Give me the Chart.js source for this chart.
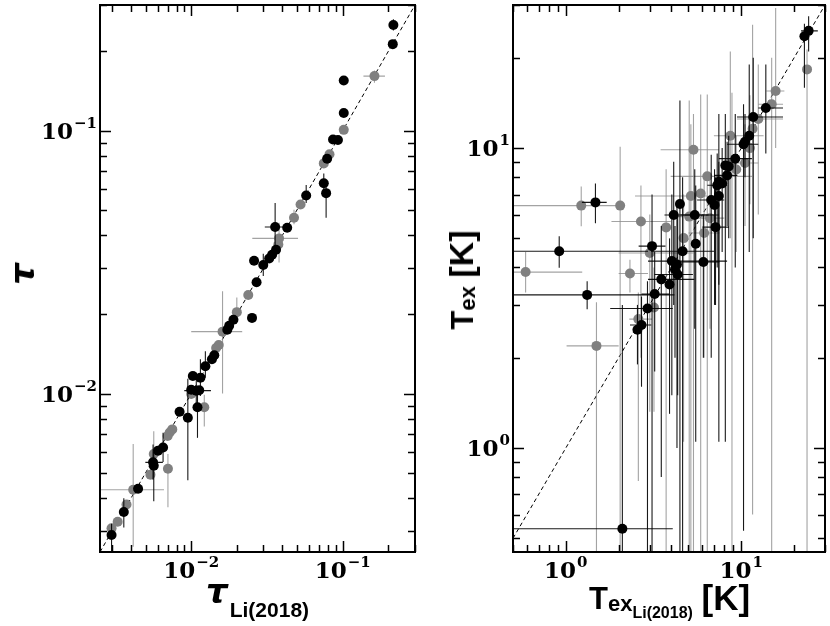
<!DOCTYPE html>
<html>
<head>
<meta charset="utf-8">
<script src="https://cdn.jsdelivr.net/npm/chart.js@4.4.1/dist/chart.umd.min.js"></script>
<style>
  html, body { margin: 0; padding: 0; background: #fff; }
  #wrap { position: relative; width: 830px; height: 626px; background: #fff; overflow: hidden; }
  .panel { position: absolute; top: 0; height: 626px; }
  .ttl { position: absolute; white-space: nowrap; line-height: 1; color: #000; }
  .sans { font-family: "Liberation Sans", Arial, sans-serif; font-weight: bold; }
  .rot { transform: translate(-50%, -50%) rotate(-90deg); }
</style>
</head>
<body>
<div id="wrap">
  <div class="panel" style="left:0;width:420px"><canvas id="chartTau"></canvas></div>
  <div class="panel" style="left:420px;width:410px"><canvas id="chartTex"></canvas></div>

  <div class="ttl rot" style="left:22px;top:274px;font:bold italic 34px 'DejaVu Sans'">τ</div>
  <div class="ttl" style="left:206px;top:571px;font:bold italic 34px 'DejaVu Sans'">τ<span class="sans" style="font-size:21px;font-style:normal;position:relative;top:14px;margin-left:2px">Li(2018)</span></div>

  <div class="ttl rot sans" style="left:461px;top:280px;font-size:31px">T<span style="font-size:22px;position:relative;top:2px">ex</span> <span style="font-size:34px">[K]</span></div>
  <div class="ttl sans" style="left:589px;top:579px;font-size:31px">T<span style="font-size:22px;position:relative;top:2px">ex<span style="font-size:16px;position:relative;top:7px">Li(2018)</span></span> <span style="font-size:35px;position:relative;top:1px">[K]</span></div>
</div>

<script>
// axis ranges and labelled ticks
const tauRange = [0.0025, 0.3];
const texXRange = [0.5, 30];
const texYRange = [0.45, 30];
const tauTickLabels = [0.01, 0.1];
const texTickLabels = [1, 10];

// rows: [x, y, xLow, xHigh, yLow, yHigh]  (error bounds optional)
const tauBlack = [
    [0.216, 0.252, null, null, 0.24, 0.265],
    [0.214, 0.213],
    [0.1016, 0.155],
    [0.1016, 0.1165],
    [0.0863, 0.0925],
    [0.093, 0.092],
    [0.0789, 0.0781],
    [0.075, 0.063, null, null, 0.0587, 0.0687],
    [0.0777, 0.0578, null, null, 0.0466, 0.063],
    [0.0574, 0.0566, null, null, 0.053, 0.0621],
    [0.043, 0.0427],
    [0.0358, 0.043, 0.0306, 0.043, 0.0352, 0.053],
    [0.0363, 0.0352],
    [0.0342, 0.0337],
    [0.0327, 0.0326],
    [0.026, 0.032],
    [0.0299, 0.0308, null, null, 0.028, 0.034],
    [0.027, 0.0265],
    [0.0252, 0.0194],
    [0.019, 0.0191],
    [0.0178, 0.0181],
    [0.0173, 0.0175],
    [0.0142, 0.014],
    [0.0137, 0.0135],
    [0.0124, 0.0127, null, null, 0.0115, 0.0145],
    [0.01025, 0.01167],
    [0.0115, 0.0115, null, null, 0.0098, 0.0135],
    [0.01, 0.01035],
    [0.0108, 0.01026, 0.009, 0.0135, 0.0088, 0.012],
    [0.0113, 0.0103],
    [0.011, 0.00888, null, null, 0.00679, 0.00994],
    [0.00838, 0.00853],
    [0.0095, 0.00809, null, null, 0.00468, 0.0114],
    [0.00652, 0.00624, null, null, 0.0055, 0.0071],
    [0.00604, 0.00607],
    [0.0056, 0.00548, 0.00498, 0.0065, 0.0047, 0.0064],
    [0.00566, 0.00532, null, null, 0.0039, 0.006],
    [0.00446, 0.00435],
    [0.00359, 0.00355, null, null, 0.0031, 0.004],
    [0.00298, 0.0029, null, null, 0.0025, 0.0032]
];

const tauGray = [
    [0.162, 0.161, 0.137, 0.19, 0.152, 0.169],
    [0.1016, 0.1006],
    [0.0818, 0.0813],
    [0.075, 0.075],
    [0.0527, 0.0523],
    [0.0477, 0.0466, null, null, 0.044, 0.05],
    [0.038, 0.0389, 0.0253, 0.0507, 0.0315, 0.0446],
    [0.0376, 0.0369],
    [0.0238, 0.0237],
    [0.02, 0.0204, null, null, 0.0187, 0.0232],
    [0.0161, 0.0172, 0.01, 0.0217, 0.01, 0.0245],
    [0.0152, 0.0153],
    [0.0146, 0.0149],
    [0.01, 0.00997],
    [0.0122, 0.00888, null, null, 0.0075, 0.0099],
    [0.0075, 0.00731],
    [0.00721, 0.00711],
    [0.00699, 0.0069],
    [0.00566, 0.00589, null, null, 0.0052, 0.0072],
    [0.00702, 0.00518, null, null, 0.0037, 0.0059],
    [0.00538, 0.00492],
    [0.00414, 0.00431, 0.0025, 0.00661, 0.00262, 0.00644],
    [0.00374, 0.00379],
    [0.00327, 0.00326],
    [0.00298, 0.00308]
];

const texBlack = [
    [24.2, 24.6, 21.9, 27.3, 21.0, 27.5],
    [22.9, 23.6, null, null, 15.9, 26.0],
    [13.8, 13.6, 12.5, 17.3, 9.6, 19.0],
    [11.7, 12.7, 9.45, 17.3, 5.0, 20.0],
    [11.1, 11.0, null, null, 4.5, 19.0],
    [10.3, 10.3, 8.3, 12.5, 0.53, 14.0],
    [10.5, 10.5, null, null, 8.0, 13.0],
    [9.24, 9.22, 7.45, 11.5, 4.0, 13.0],
    [8.11, 8.75, null, null, 1.05, 13.0],
    [8.48, 8.69, null, null, 5.0, 11.0],
    [8.3, 8.11, 7.0, 9.5, 5.5, 10.5],
    [7.45, 7.72, null, null, 1.05, 13.0],
    [7.78, 7.62, null, null, 4.5, 10.0],
    [7.29, 7.52, 6.4, 8.3, 4.0, 9.6],
    [7.45, 6.92, null, null, 3.5, 9.0],
    [6.74, 6.71, 5.6, 8.0, 2.0, 9.5],
    [7.04, 6.46, null, null, 3.0, 8.5],
    [4.47, 6.51, null, null, 0.2, 14.4],
    [1.475, 6.59, 1.235, 1.71, 5.62, 7.62],
    [4.12, 5.98, 3.65, 7.45, 3.0, 9.0],
    [5.43, 5.98, 4.5, 6.5, 2.5, 8.5],
    [7.13, 5.45, 6.0, 8.5, 3.0, 8.0],
    [5.5, 4.8, null, null, 1.05, 7.5],
    [3.1, 4.71, 2.6, 3.7, 0.2, 7.0],
    [4.63, 4.53, 3.06, 7.0, 0.2, 8.0],
    [0.917, 4.53, 0.3, 2.94, 3.99, 5.08],
    [6.08, 4.17, 4.5, 7.5, 2.0, 6.0],
    [4.02, 4.2, 2.94, 8.3, 1.5, 7.0],
    [4.3, 4.09, null, null, 1.0, 6.5],
    [3.5, 3.65, 2.94, 5.4, 0.8, 5.5],
    [3.9, 3.51, null, null, 1.3, 5.0],
    [4.34, 3.79, 3.2, 5.3, 1.5, 6.0],
    [4.19, 3.94, null, null, 2.0, 5.5],
    [1.323, 3.24, 0.3, 4.16, 2.9, 3.6],
    [3.21, 3.26, 2.7, 3.9, 1.8, 4.5],
    [2.92, 2.92, 1.79, 4.07, 0.2, 3.6],
    [2.7, 2.57, 2.32, 3.07, 1.6, 3.2],
    [2.56, 2.48, null, null, 1.9, 3.0],
    [2.1, 0.538, 0.3, 4.07, 0.2, 3.0]
];

const texGray = [
    [23.7, 18.3, null, null, 0.2, 21.3],
    [15.7, 15.5, 13.9, 17.6, 10.0, 29.3],
    [14.9, 14.0, 12.5, 17.3, 0.2, 20.0],
    [12.5, 12.5, 9.45, 17.3, 6.0, 19.0],
    [11.6, 11.6, null, null, 0.6, 25.8],
    [8.66, 11.0, 6.98, 13.4, 5.0, 21.0],
    [11.2, 10.0, null, null, 6.5, 15.0],
    [5.34, 9.87, 3.47, 7.45, 0.2, 13.0],
    [8.85, 8.88, null, null, 0.2, 15.3],
    [10.5, 8.92, 8.5, 12.5, 5.5, 12.0],
    [9.36, 8.48, null, null, 4.5, 11.0],
    [6.4, 8.05, 3.96, 11.5, 0.2, 15.1],
    [5.16, 6.92, 2.48, 6.4, 0.2, 12.0],
    [5.87, 7.06, null, null, 0.2, 15.1],
    [1.224, 6.43, 0.3, 2.07, 5.49, 7.45],
    [2.04, 6.43, null, null, 0.2, 10.1],
    [2.68, 5.69, 1.82, 3.96, 2.0, 7.5],
    [6.63, 5.84, 5.0, 8.0, 2.5, 8.0],
    [3.73, 5.44, null, null, 0.2, 8.5],
    [5.05, 5.91, 4.0, 6.5, 0.2, 14.4],
    [6.14, 5.21, 5.0, 7.5, 2.0, 8.0],
    [4.69, 5.01, null, null, 1.05, 7.0],
    [3.01, 4.47, 2.0, 5.41, 1.32, 6.0],
    [0.59, 3.86, 0.3, 1.24, 3.3, 4.5],
    [2.32, 3.82, 2.0, 2.94, 3.3, 4.24],
    [3.18, 2.94, null, null, 1.32, 4.0],
    [2.59, 2.69, 2.3, 3.1, 0.776, 3.3],
    [1.495, 2.19, 1.01, 2.0, 0.2, 3.06]
];

function toPoints(rows) {
    return rows.map(r => ({ x: r[0], y: r[1] }));
}

// minor/major log ticks inside a range
function logTicks(min, max) {
    const out = [];
    for (let e = Math.floor(Math.log10(min)); e <= Math.ceil(Math.log10(max)); e++) {
        for (let m = 1; m < 10; m++) {
            const v = m * Math.pow(10, e);
            if (v >= min * 0.999 && v <= max * 1.001) out.push({ v: v, major: m === 1 });
        }
    }
    return out;
}

// error bars, drawn just before the points of their dataset
const errorBars = {
    id: 'errorBars',
    beforeDatasetDraw(chart, args) {
        const ds = chart.data.datasets[args.index];
        if (!ds.errRows) return;
        const { ctx, chartArea: a } = chart;
        const xs = chart.scales.x, ys = chart.scales.y;
        ctx.save();
        ctx.beginPath();
        ctx.rect(a.left, a.top, a.right - a.left, a.bottom - a.top);
        ctx.clip();
        ctx.strokeStyle = ds.errColor;
        ctx.lineWidth = 1.1;
        ds.errRows.forEach(r => {
            const px = xs.getPixelForValue(r[0]);
            const py = ys.getPixelForValue(r[1]);
            ctx.beginPath();
            if (r[2] != null) {
                ctx.moveTo(xs.getPixelForValue(r[2]), py);
                ctx.lineTo(xs.getPixelForValue(r[3]), py);
            }
            if (r[4] != null) {
                ctx.moveTo(px, ys.getPixelForValue(r[4]));
                ctx.lineTo(px, ys.getPixelForValue(r[5]));
            }
            ctx.stroke();
        });
        ctx.restore();
    }
};

// 10^n label with a raised exponent
function drawPow(ctx, value, cx, baseY, align) {
    const e = Math.round(Math.log10(value));
    const expText = e < 0 ? '\u2212' + (-e) : String(e);
    ctx.font = 'bold 23px "DejaVu Serif"';
    const wb = ctx.measureText('10').width;
    ctx.font = 'bold 15px "DejaVu Serif"';
    const we = ctx.measureText(expText).width;
    const total = wb + 1 + we;
    const start = align === 'center' ? cx - total / 2 : cx - total;
    ctx.textAlign = 'left';
    ctx.textBaseline = 'alphabetic';
    ctx.font = 'bold 23px "DejaVu Serif"';
    ctx.fillText('10', start, baseY);
    ctx.font = 'bold 15px "DejaVu Serif"';
    ctx.fillText(expText, start + wb + 1, baseY - 11);
}

// frame with inward ticks on all four sides + tick labels
const frame = {
    id: 'frame',
    afterDraw(chart, args, opts) {
        const { ctx, chartArea: a } = chart;
        const xs = chart.scales.x, ys = chart.scales.y;
        ctx.save();
        ctx.strokeStyle = '#000';
        ctx.lineWidth = 1.5;
        ctx.beginPath();
        logTicks(xs.min, xs.max).forEach(t => {
            const p = Math.round(xs.getPixelForValue(t.v)) + 0.5;
            const len = t.major ? 11 : 7;
            ctx.moveTo(p, a.bottom); ctx.lineTo(p, a.bottom - len);
            ctx.moveTo(p, a.top); ctx.lineTo(p, a.top + len);
        });
        logTicks(ys.min, ys.max).forEach(t => {
            const p = Math.round(ys.getPixelForValue(t.v)) + 0.5;
            const len = t.major ? 11 : 7;
            ctx.moveTo(a.left, p); ctx.lineTo(a.left + len, p);
            ctx.moveTo(a.right, p); ctx.lineTo(a.right - len, p);
        });
        ctx.stroke();
        ctx.lineWidth = 2;
        ctx.strokeRect(a.left, a.top, a.right - a.left, a.bottom - a.top);
        ctx.fillStyle = '#000';
        opts.labels.forEach(v => {
            if (v >= xs.min && v <= xs.max) drawPow(ctx, v, xs.getPixelForValue(v), a.bottom + 26, 'center');
            if (v >= ys.min && v <= ys.max) drawPow(ctx, v, a.left - 3, ys.getPixelForValue(v) + 8, 'right');
        });
        ctx.restore();
    }
};

function makeChart(id, range, yRange, black, gray, labels, yWidth, padRight) {
    const ctx = document.getElementById(id).getContext('2d');
    return new Chart(ctx, {
        type: 'scatter',
        data: {
            datasets: [{
                label: 'black',
                data: toPoints(black),
                errRows: black,
                errColor: 'rgba(0,0,0,0.9)',
                backgroundColor: '#000000',
                borderWidth: 0,
                pointRadius: 5,
                pointHoverRadius: 5
            }, {
                label: 'gray',
                data: toPoints(gray),
                errRows: gray,
                errColor: 'rgba(140,140,140,0.8)',
                backgroundColor: '#808080',
                borderWidth: 0,
                pointRadius: 5,
                pointHoverRadius: 5
            }, {
                label: 'one-to-one',
                data: [{ x: range[0], y: range[0] }, { x: range[1], y: range[1] }],
                showLine: true,
                borderColor: '#000',
                borderWidth: 1,
                borderDash: [4, 3],
                pointRadius: 0
            }]
        },
        options: {
            responsive: true,
            maintainAspectRatio: false,
            animation: false,
            devicePixelRatio: 1,
            layout: { padding: { left: 0, top: 1, right: padRight, bottom: 0 } },
            plugins: {
                legend: { display: false },
                tooltip: { enabled: false },
                frame: { labels: labels }
            },
            scales: {
                x: {
                    type: 'logarithmic',
                    min: range[0],
                    max: range[1],
                    grid: { display: false },
                    border: { display: false },
                    ticks: { display: false },
                    afterFit: s => { s.height = 74; }
                },
                y: {
                    type: 'logarithmic',
                    min: yRange[0],
                    max: yRange[1],
                    grid: { display: false },
                    border: { display: false },
                    ticks: { display: false },
                    afterFit: s => { s.width = yWidth; }
                }
            }
        },
        plugins: [errorBars, frame]
    });
}

makeChart('chartTau', tauRange, tauRange, tauBlack, tauGray, tauTickLabels, 100, 3);
makeChart('chartTex', texXRange, texYRange, texBlack, texGray, texTickLabels, 93, 1);
</script>
</body>
</html>
